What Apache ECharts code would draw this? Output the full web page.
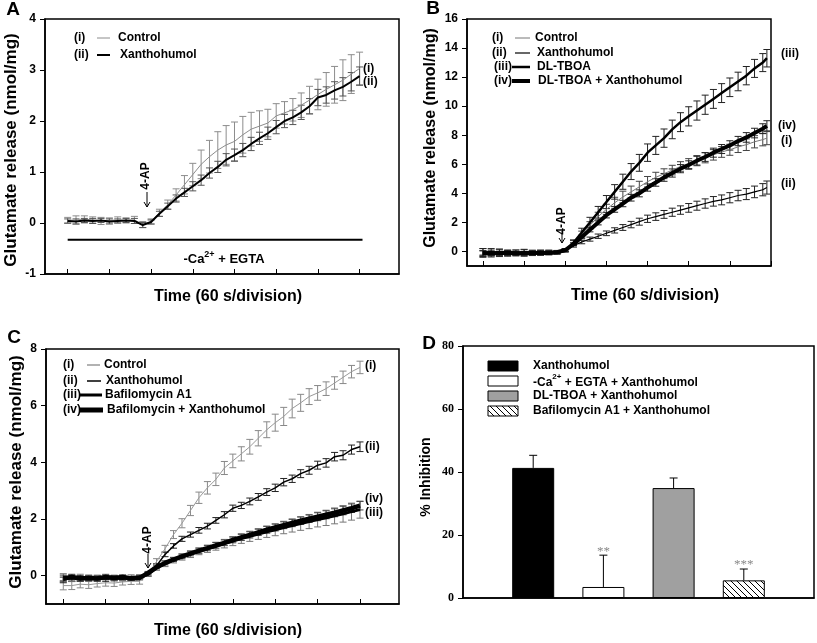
<!DOCTYPE html>
<html><head><meta charset="utf-8">
<script src="https://cdn.jsdelivr.net/npm/echarts@6/dist/echarts.min.js"></script>
<style>html,body{margin:0;padding:0;background:#fff}#c{width:817px;height:643px}</style>
</head><body><div id="c"></div>
<script>
// ---------------- DATA ----------------
const timeA = [0,0.2,0.4,0.6,0.8,1,1.2,1.4,1.6,1.8,2,2.2,2.4,2.6,2.8,3,3.2,3.4,3.6,3.8,4,4.2,4.4,4.6,4.8,5,5.2,5.4,5.6,5.8,6,6.2,6.4,6.6,6.8,7];
const timeB = [0,0.2,0.4,0.6,0.8,1,1.2,1.4,1.6,1.8,2,2.2,2.4,2.6,2.8,3,3.2,3.4,3.6,3.8,4,4.2,4.4,4.6,4.8,5,5.2,5.4,5.6,5.8,6,6.2,6.4,6.6,6.8,6.9];
const timeC = [0,0.2,0.4,0.6,0.8,1,1.2,1.4,1.6,1.8,2,2.2,2.4,2.6,2.8,3,3.2,3.4,3.6,3.8,4,4.2,4.4,4.6,4.8,5,5.2,5.4,5.6,5.8,6,6.2,6.4,6.6,6.8,7];
const timeTicks = [0,1,2,3,4,5,6,7];

// Panel A
const aControl    = [0.05,0.06,0.07,0.06,0.04,0.05,0.06,0.05,0.06,-0.03,0.03,0.2,0.36,0.55,0.75,0.95,1.15,1.3,1.43,1.53,1.6,1.73,1.84,1.9,1.96,2.1,2.16,2.22,2.31,2.41,2.52,2.62,2.71,2.8,2.92,3.03];
const aControlErr = [0.06,0.08,0.07,0.06,0.07,0.05,0.06,0.05,0.07,0.06,0.05,0.07,0.09,0.12,0.18,0.22,0.28,0.32,0.36,0.38,0.38,0.36,0.33,0.3,0.27,0.24,0.22,0.22,0.24,0.27,0.3,0.33,0.36,0.4,0.38,0.32];
const aXan        = [0.04,0.03,0.05,0.04,0.05,0.03,0.04,0.05,0.04,-0.04,0.02,0.18,0.33,0.48,0.6,0.72,0.84,0.98,1.1,1.24,1.33,1.43,1.55,1.66,1.76,1.88,2.0,2.07,2.17,2.29,2.46,2.51,2.6,2.67,2.77,2.88];
const aXanErr     = [0.04,0.05,0.04,0.05,0.04,0.05,0.04,0.04,0.05,0.05,0.04,0.05,0.06,0.07,0.08,0.09,0.1,0.1,0.11,0.12,0.12,0.13,0.13,0.12,0.12,0.13,0.13,0.14,0.14,0.15,0.16,0.16,0.17,0.18,0.18,0.18];
const aCaLine     = [[0,-0.33],[7.07,-0.33]];
const aTicksY     = [-1,0,1,2,3,4];

// Panel B
const bControl    = [-0.05,-0.1,-0.05,-0.1,-0.08,-0.05,-0.1,-0.08,-0.05,-0.05,0.1,0.6,1.2,1.8,2.4,2.9,3.35,3.75,4.1,4.45,4.8,5.1,5.35,5.6,5.85,6.05,6.25,6.45,6.65,6.85,7.0,7.2,7.35,7.55,7.7,7.8];
const bControlErr = [0.25,0.2,0.22,0.2,0.18,0.2,0.18,0.15,0.15,0.12,0.1,0.15,0.2,0.25,0.3,0.35,0.38,0.4,0.4,0.38,0.36,0.35,0.34,0.33,0.33,0.34,0.35,0.35,0.36,0.37,0.38,0.39,0.4,0.42,0.43,0.45];
const bXan        = [-0.15,-0.2,-0.15,-0.12,-0.15,-0.18,-0.12,-0.15,-0.1,-0.08,0.1,0.4,0.65,0.85,1.05,1.25,1.45,1.65,1.85,2.05,2.25,2.4,2.55,2.7,2.85,3.0,3.15,3.3,3.45,3.55,3.7,3.85,3.95,4.1,4.25,4.4];
const bXanErr     = [0.2,0.18,0.15,0.15,0.14,0.15,0.13,0.12,0.12,0.1,0.08,0.1,0.12,0.14,0.15,0.16,0.18,0.2,0.22,0.24,0.25,0.26,0.27,0.28,0.29,0.3,0.31,0.32,0.33,0.34,0.35,0.36,0.38,0.4,0.42,0.45];
const bTboa       = [-0.1,-0.05,-0.1,-0.12,-0.1,-0.08,-0.1,-0.05,-0.08,-0.05,0.05,0.6,1.3,2.0,2.7,3.4,4.1,4.8,5.5,6.1,6.8,7.3,7.8,8.4,8.9,9.3,9.7,10.1,10.5,10.9,11.3,11.7,12.1,12.6,13.0,13.3];
const bTboaErr    = [0.3,0.25,0.25,0.2,0.2,0.2,0.18,0.15,0.15,0.12,0.1,0.2,0.3,0.35,0.4,0.45,0.5,0.52,0.55,0.58,0.6,0.62,0.63,0.64,0.65,0.66,0.66,0.66,0.65,0.65,0.64,0.64,0.63,0.62,0.62,0.6];
const bTboaXan    = [-0.1,-0.12,-0.1,-0.08,-0.12,-0.1,-0.1,-0.08,-0.1,-0.05,0.1,0.5,1.0,1.5,2.0,2.5,2.9,3.3,3.7,4.0,4.4,4.75,5.1,5.4,5.7,5.95,6.25,6.5,6.8,7.05,7.3,7.6,7.85,8.15,8.45,8.65];
const bTboaXanErr = [0.15,0.15,0.12,0.12,0.1,0.1,0.1,0.1,0.08,0.08,0.08,0.1,0.12,0.15,0.17,0.19,0.2,0.22,0.23,0.24,0.25,0.26,0.27,0.28,0.28,0.29,0.3,0.3,0.31,0.31,0.32,0.32,0.33,0.33,0.34,0.35];
const bTicksY     = [0,2,4,6,8,10,12,14,16];

// Panel C
const cControl    = [-0.35,-0.35,-0.3,-0.32,-0.28,-0.25,-0.26,-0.22,-0.2,-0.2,0.05,0.5,0.95,1.45,1.85,2.3,2.75,3.1,3.4,3.8,4.05,4.3,4.55,4.85,5.15,5.4,5.62,5.9,6.1,6.32,6.45,6.6,6.8,7.0,7.2,7.35];
const cControlErr = [0.15,0.14,0.13,0.13,0.12,0.12,0.12,0.11,0.11,0.1,0.08,0.1,0.12,0.14,0.16,0.18,0.2,0.22,0.22,0.23,0.24,0.25,0.26,0.27,0.28,0.3,0.32,0.33,0.3,0.28,0.26,0.24,0.22,0.22,0.22,0.22];
const cXan        = [-0.15,-0.1,-0.12,-0.08,-0.1,-0.12,-0.1,-0.08,-0.1,-0.05,0.05,0.35,0.75,1.05,1.3,1.45,1.6,1.75,1.95,2.15,2.38,2.48,2.62,2.78,2.95,3.1,3.3,3.42,3.6,3.72,3.9,3.98,4.2,4.25,4.45,4.55];
const cXanErr     = [0.1,0.1,0.08,0.08,0.1,0.08,0.08,0.08,0.07,0.07,0.06,0.07,0.08,0.08,0.09,0.09,0.1,0.1,0.1,0.11,0.11,0.11,0.12,0.12,0.12,0.13,0.13,0.13,0.14,0.14,0.14,0.15,0.15,0.16,0.16,0.17];
const cBaf        = [-0.05,-0.08,-0.05,-0.1,-0.08,-0.05,-0.08,-0.1,-0.06,-0.05,0.05,0.27,0.42,0.55,0.66,0.76,0.86,0.95,1.04,1.13,1.22,1.31,1.39,1.47,1.55,1.62,1.7,1.77,1.84,1.91,1.98,2.04,2.11,2.18,2.26,2.33];
const cBafErr     = [0.12,0.12,0.1,0.1,0.1,0.1,0.1,0.09,0.09,0.08,0.06,0.08,0.1,0.1,0.11,0.12,0.12,0.13,0.14,0.15,0.16,0.17,0.18,0.19,0.2,0.21,0.22,0.23,0.24,0.25,0.26,0.27,0.28,0.29,0.3,0.3];
const cBafXan     = [-0.1,-0.05,-0.1,-0.08,-0.1,-0.05,-0.08,-0.05,-0.1,-0.08,0.1,0.3,0.45,0.57,0.68,0.78,0.88,0.97,1.07,1.16,1.26,1.35,1.44,1.53,1.62,1.7,1.78,1.86,1.94,2.01,2.08,2.15,2.22,2.3,2.38,2.47];
const cBafXanErr  = [0.12,0.1,0.1,0.1,0.08,0.08,0.08,0.08,0.07,0.07,0.05,0.06,0.07,0.07,0.08,0.08,0.09,0.09,0.1,0.1,0.1,0.11,0.11,0.11,0.12,0.12,0.12,0.13,0.13,0.13,0.14,0.14,0.14,0.15,0.15,0.15];
const cTicksY     = [0,2,4,6,8];

// Panel D
const dCategories = ['Xanthohumol','-Ca2+ + EGTA + Xanthohumol','DL-TBOA + Xanthohumol','Bafilomycin A1 + Xanthohumol'];
const dValues     = [41.3, 3.5, 34.9, 5.6];
const dErrors     = [4.0, 10.1, 3.2, 3.6];
const dMarks      = ['', '**', '', '***'];
const dTicksY     = [0,20,40,60,80];

// ---------------- STYLE ----------------
const F = '"Liberation Sans", Arial, sans-serif';
const FS = '"Liberation Serif", "Times New Roman", serif';

function hatchCanvas(){
  const s = 6, c = document.createElement('canvas'); c.width = s; c.height = s;
  const g = c.getContext('2d'); g.fillStyle = '#fff'; g.fillRect(0,0,s,s);
  g.strokeStyle = '#000'; g.lineWidth = 1; g.beginPath();
  for (const k of [-s,0,s]) { g.moveTo(k,0); g.lineTo(k+s,s); }
  g.stroke(); return c;
}
const hatch = {image: hatchCanvas(), repeat: 'repeat'};
const dFills = ['#000', '#fff', '#a0a0a0', hatch];

function timeXAxis(gi, min, max){
  return {type:'value', gridIndex:gi, min, max,
    axisLine:{show:true, onZero:false, lineStyle:{color:'#000', width:1.5}},
    axisTick:{show:true, inside:true, length:5, customValues:timeTicks, lineStyle:{color:'#000', width:1}},
    axisLabel:{show:false}, splitLine:{show:false}};
}
function valYAxis(gi, min, max, ticks, family){
  return {type:'value', gridIndex:gi, min, max,
    axisLine:{show:true, onZero:false, lineStyle:{color:'#000', width:1.5}},
    axisTick:{show:true, length:5, customValues:ticks, lineStyle:{color:'#000', width:1}},
    axisLabel:{customValues:ticks, fontFamily:family, fontWeight:'bold', fontSize:12, color:'#000', margin:9},
    splitLine:{show:false}};
}
function lineS(gi, t, v, color, width, z){
  return {type:'line', xAxisIndex:gi, yAxisIndex:gi, data:t.map((x,i)=>[x,v[i]]),
    symbol:'none', showSymbol:false, lineStyle:{color, width}, z:z||3, silent:true, animation:false};
}
function errS(gi, t, v, e, color, cap){
  return {type:'custom', xAxisIndex:gi, yAxisIndex:gi, data:t.map((x,i)=>[x,v[i],e[i]]),
    encode:{x:0, y:1}, z:2, silent:true, animation:false,
    renderItem:(p, api)=>{
      const x = api.value(0), y = api.value(1), er = api.value(2);
      const a = api.coord([x, y+er]), b = api.coord([x, y-er]);
      const st = {stroke:color, lineWidth:1};
      return {type:'group', children:[
        {type:'line', shape:{x1:a[0],y1:a[1],x2:b[0],y2:b[1]}, style:st},
        {type:'line', shape:{x1:a[0]-cap,y1:a[1],x2:a[0]+cap,y2:a[1]}, style:st},
        {type:'line', shape:{x1:b[0]-cap,y1:b[1],x2:b[0]+cap,y2:b[1]}, style:st}
      ]};
    }};
}

// graphic helpers
function txt(x, y, text, size, o){
  o = o || {};
  return {type:'text', x, y, rotation:o.rot||0, silent:true, z:10,
    style:{text, font:`bold ${size}px ${o.family||F}`, fill:o.fill||'#000', align:o.align||'left', verticalAlign:'middle'}};
}
function seg(x1, y1, x2, y2, w, color){
  return {type:'line', silent:true, z:10, shape:{x1,y1,x2,y2}, style:{stroke:color||'#000', lineWidth:w}};
}
function arrow(x, y1, y2){
  return [seg(x,y1,x,y2,1), {type:'polyline', silent:true, z:10, shape:{points:[[x-3,y2-5],[x,y2],[x+3,y2-5]]}, style:{stroke:'#000', lineWidth:1, fill:null}}];
}
function supText(x, y, pre, sup, post, size, o){
  o = o || {};
  return {type:'text', x, y, silent:true, z:10, style:{
    text:`{a|${pre}}{s|${sup}}{a|${post}}`, align:o.align||'left', verticalAlign:'middle',
    rich:{a:{font:`bold ${size}px ${F}`, fill:'#000', lineHeight:16, verticalAlign:'bottom'},
          s:{font:`bold ${Math.round(size*0.7)}px ${F}`, fill:'#000', lineHeight:8, verticalAlign:'top'}}}};
}
const R = Math.PI/2;
const G = [];
// panel letters
G.push(txt(13,10,'A',19,{align:'center'}), txt(433,9,'B',19,{align:'center'}), txt(14,338,'C',19,{align:'center'}), txt(429,344,'D',19,{align:'center'}));
// axis titles
G.push(txt(228,297,'Time (60 s/division)',16,{align:'center'}), txt(645,296,'Time (60 s/division)',16,{align:'center'}), txt(228,631,'Time (60 s/division)',16,{align:'center'}));
G.push(txt(11,150,'Glutamate release (nmol/mg)',17,{rot:R,align:'center'}), txt(431,138,'Glutamate release (nmol/mg)',16,{rot:R,align:'center'}),
       txt(16,472,'Glutamate release (nmol/mg)',17,{rot:R,align:'center'}), txt(426,477,'% Inhibition',14,{rot:R,align:'center'}));
// legend A
G.push(txt(74,38,'(i)',12), seg(97,38,110,38,1,'#8c8c8c'), txt(118,38,'Control',12));
G.push(txt(74,55,'(ii)',12), seg(97,55,110,55,2,'#000'), txt(120,55,'Xanthohumol',12));
// legend B
G.push(txt(492,38,'(i)',12), seg(515,38,530,38,1,'#777'), txt(535,38,'Control',12));
G.push(txt(492,53,'(ii)',12), seg(515,53,530,53,1.2,'#000'), txt(537,53,'Xanthohumol',12));
G.push(txt(494,67,'(iii)',12), seg(512,67,530,67,2.5,'#000'), txt(537,67,'DL-TBOA',12));
G.push(txt(494,81,'(iv)',12), seg(512,81,530,81,4,'#000'), txt(538,81,'DL-TBOA + Xanthohumol',12));
// legend C
G.push(txt(63,365,'(i)',12), seg(87,365,100,365,1.5,'#999'), txt(104,365,'Control',12));
G.push(txt(63,381,'(ii)',12), seg(87,381,101,381,1.5,'#000'), txt(106,381,'Xanthohumol',12));
G.push(txt(63,395,'(iii)',12), seg(80,395,102,395,3,'#000'), txt(105,395,'Bafilomycin A1',12));
G.push(txt(63,410,'(iv)',12), seg(80,410,103,410,5,'#000'), txt(107,410,'Bafilomycin + Xanthohumol',12));
// legend D
const dRows = [366,381,396,411];
dCategories.forEach((c,i)=>{
  G.push({type:'rect', silent:true, z:10, shape:{x:488,y:dRows[i]-5,width:30,height:10}, style:{fill:dFills[i], stroke:'#000', lineWidth:1}});
});
G.push(txt(533,366,'Xanthohumol',12), supText(533,381,'-Ca','2+',' + EGTA + Xanthohumol',12), txt(533,396,'DL-TBOA + Xanthohumol',12), txt(533,411,'Bafilomycin A1 + Xanthohumol',12));
// end labels
G.push(txt(363,69,'(i)',12), txt(363,82,'(ii)',12));
G.push(txt(781,54,'(iii)',12), txt(778,126,'(iv)',12), txt(781,141,'(i)',12), txt(781,184,'(ii)',12));
G.push(txt(365,366,'(i)',12), txt(365,447,'(ii)',12), txt(365,499,'(iv)',12), txt(365,513,'(iii)',12));
// 4-AP
G.push(txt(145.5,176,'4-AP',12,{rot:R,align:'center'}), ...arrow(147,192,207));
G.push(txt(562,221,'4-AP',12,{rot:R,align:'center'}), ...arrow(562,231,243));
G.push(txt(148,540,'4-AP',12,{rot:R,align:'center'}), ...arrow(148,554,568));
// Ca label
G.push(supText(224,258,'-Ca','2+',' + EGTA',13,{align:'center'}));

const gridBase = {show:true, borderColor:'#000', borderWidth:1.5, backgroundColor:'transparent'};

const option = {
  animation:false,
  backgroundColor:'#fff',
  grid:[
    Object.assign({left:45, top:19, width:354, height:255}, gridBase),
    Object.assign({left:467, top:19, width:304, height:247}, gridBase),
    Object.assign({left:46, top:349, width:353, height:255}, gridBase),
    Object.assign({left:463, top:346, width:351, height:252}, gridBase)
  ],
  xAxis:[
    timeXAxis(0, -0.544, 7.945),
    timeXAxis(1, -0.388, 7.0),
    timeXAxis(2, -0.408, 7.92),
    {type:'value', gridIndex:3, min:0, max:5, axisLine:{show:true, onZero:false, lineStyle:{color:'#000', width:1.5}}, axisTick:{show:false}, axisLabel:{show:false}, splitLine:{show:false}}
  ],
  yAxis:[
    valYAxis(0, -1, 4, aTicksY, F),
    valYAxis(1, -1, 16, bTicksY, F),
    valYAxis(2, -1, 8, cTicksY, F),
    valYAxis(3, 0, 80, dTicksY, FS)
  ],
  series:[
    // A
    errS(0, timeA, aControl, aControlErr, '#8c8c8c', 3.5),
    errS(0, timeA, aXan, aXanErr, '#555', 3.5),
    lineS(0, timeA, aControl, '#8c8c8c', 1),
    lineS(0, timeA, aXan, '#000', 2),
    {type:'line', xAxisIndex:0, yAxisIndex:0, data:aCaLine, symbol:'none', lineStyle:{color:'#000', width:2}, silent:true, animation:false},
    // B
    errS(1, timeB, bControl, bControlErr, '#444', 3.5),
    errS(1, timeB, bXan, bXanErr, '#222', 3.5),
    errS(1, timeB, bTboa, bTboaErr, '#222', 3.5),
    errS(1, timeB, bTboaXan, bTboaXanErr, '#222', 3.5),
    lineS(1, timeB, bControl, '#777', 1),
    lineS(1, timeB, bXan, '#000', 1.2),
    lineS(1, timeB, bTboa, '#000', 2.5),
    lineS(1, timeB, bTboaXan, '#000', 4),
    // C
    errS(2, timeC, cControl, cControlErr, '#888', 3.5),
    errS(2, timeC, cXan, cXanErr, '#222', 3.5),
    errS(2, timeC, cBaf, cBafErr, '#777', 3.5),
    errS(2, timeC, cBafXan, cBafXanErr, '#444', 3.5),
    lineS(2, timeC, cControl, '#999', 1),
    lineS(2, timeC, cXan, '#000', 1.5),
    lineS(2, timeC, cBaf, '#000', 3),
    lineS(2, timeC, cBafXan, '#000', 4.5),
    // D bars
    {type:'bar', xAxisIndex:3, yAxisIndex:3, barWidth:42, silent:true, animation:false, z:2,
     data:dValues.map((v,i)=>({value:[i+1, v], itemStyle:{color:dFills[i], borderColor:'#000', borderWidth:1}}))},
    {type:'custom', xAxisIndex:3, yAxisIndex:3, silent:true, animation:false, z:3,
     data:dValues.map((v,i)=>[i+1, v, dErrors[i]]), encode:{x:0, y:1},
     renderItem:(p, api)=>{
       const x = api.value(0), v = api.value(1), e = api.value(2);
       const b = api.coord([x, v]), t = api.coord([x, v+e]);
       const st = {stroke:'#000', lineWidth:1};
       const ch = [
         {type:'line', shape:{x1:b[0],y1:b[1],x2:t[0],y2:t[1]}, style:st},
         {type:'line', shape:{x1:t[0]-4,y1:t[1],x2:t[0]+4,y2:t[1]}, style:st}
       ];
       const m = dMarks[p.dataIndex];
       if (m) ch.push({type:'text', x:t[0], y:t[1]-4, style:{text:m, font:`13px ${FS}`, fill:'#888', align:'center', verticalAlign:'middle'}});
       return {type:'group', children:ch};
     }}
  ],
  graphic:G
};
const chart = echarts.init(document.getElementById('c'));
chart.setOption(option);
</script>
</body></html>
